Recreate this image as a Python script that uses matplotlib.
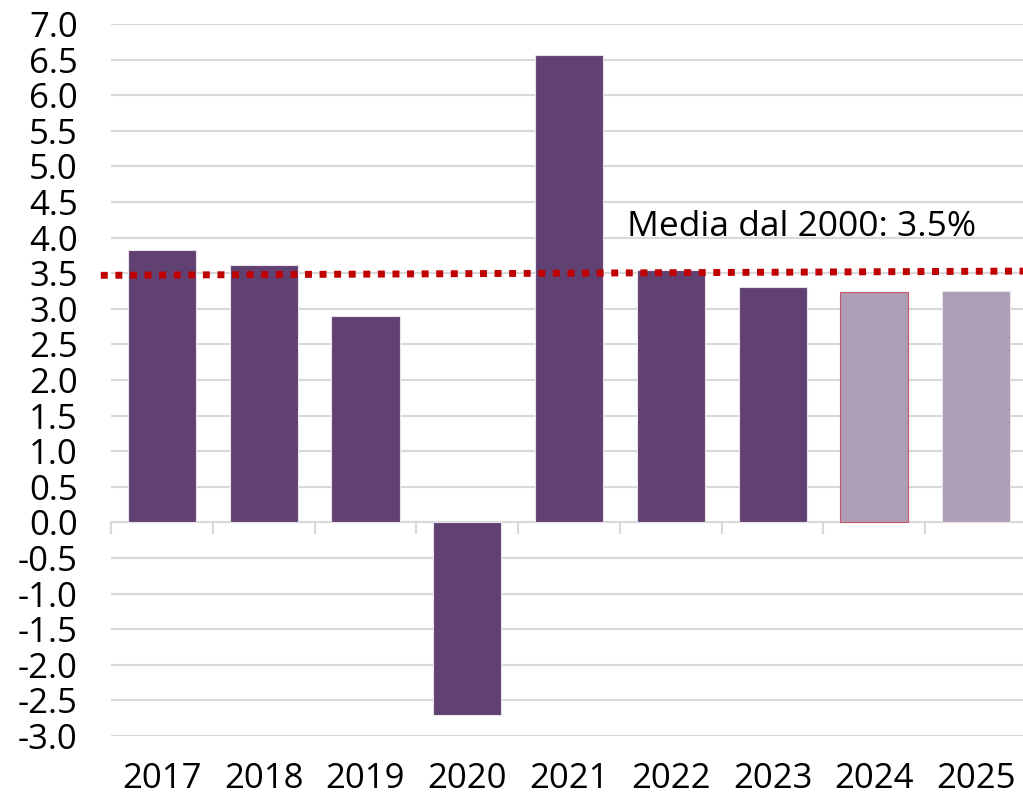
import numpy as np
import matplotlib.pyplot as plt

plt.rcParams['font.family'] = ['Open Sans', 'DejaVu Sans']

years = ['2017', '2018', '2019', '2020', '2021', '2022', '2023', '2024', '2025']
growth = [3.82, 3.62, 2.90, -2.70, 6.56, 3.54, 3.31, 3.23, 3.25]
forecast = [False, False, False, False, False, False, False, True, True]
avg_line = [3.47, 3.53]  # dotted average, left end / right end
avg_label = 'Media dal 2000: 3.5%'

dark = '#614172'
light = '#ad9db5'

fig = plt.figure(figsize=(10.23, 7.96), dpi=100)
ax = fig.add_axes([111 / 1023, (796 - 736) / 796, (1023 - 111) / 1023, (736 - 24) / 796])

x = np.arange(len(years))
colors = [light if f else dark for f in forecast]
edges = ['#c9566b' if y == '2024' else '#e8e2ec' for y in years]
ax.bar(x, growth, width=0.67, color=colors, edgecolor=edges, linewidth=0.8, zorder=3)

ax.plot([-0.6, 8.5], avg_line, linestyle=(0, (1, 1.1)), color='#c00000',
        linewidth=5, zorder=4, clip_on=False)
ax.text(4.57, 4.15, avg_label, fontsize=25.5, va='center', ha='left', zorder=5)

ax.set_xlim(-0.5, 8.46)
ax.set_ylim(-3.0, 7.0)
ax.set_yticks(np.arange(-3.0, 7.01, 0.5))
ax.set_yticklabels([f'{v:.1f}' for v in np.arange(-3.0, 7.01, 0.5)], fontsize=25)
ax.set_xticks(x)
ax.set_xticklabels(years, fontsize=25)
ax.tick_params(axis='y', length=0, pad=24)
ax.tick_params(axis='x', length=0, pad=19)

ax.grid(axis='y', color='#d9d9d9', linewidth=1.5, zorder=0)
for s in ['top', 'right', 'left', 'bottom']:
    ax.spines[s].set_visible(False)

# category axis at zero with tick marks between bars
ax.axhline(0, color='#d9d9d9', linewidth=1.5, zorder=2)
for b in np.arange(-0.5, 8.6, 1.0):
    ax.plot([b, b], [0, -0.15], color='#d9d9d9', linewidth=1.5, zorder=2, clip_on=False)

fig.savefig('out.png', dpi=100)
